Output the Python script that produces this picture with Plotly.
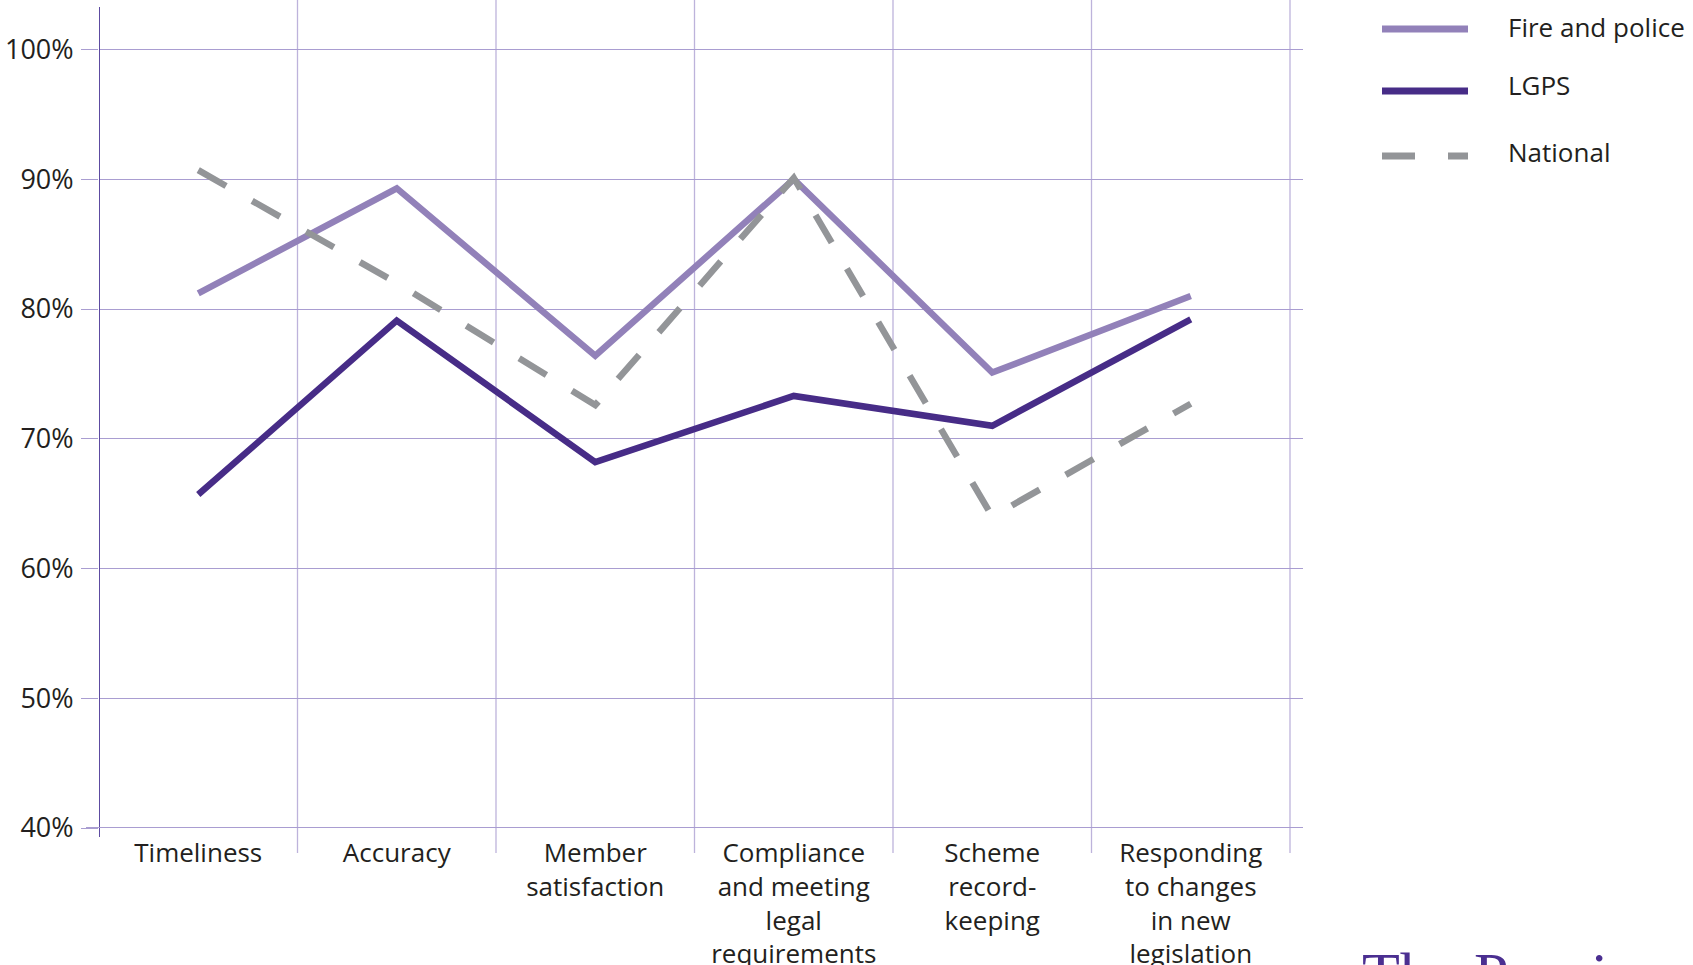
import plotly.graph_objects as go

categories = ["Timeliness", "Accuracy", "Member<br>satisfaction",
              "Compliance<br>and meeting<br>legal<br>requirements",
              "Scheme<br>record-<br>keeping",
              "Responding<br>to changes<br>in new<br>legislation"]
fire_police = [81.2, 89.3, 76.4, 90.0, 75.1, 81.0]
lgps = [65.7, 79.1, 68.2, 73.3, 71.0, 79.2]
national = [90.7, 82.0, 72.6, 90.1, 64.0, 72.7]
series_names = ["Fire and police", "LGPS", "National"]
y_ticks = [40, 50, 60, 70, 80, 90, 100]

FONT = "Open Sans"
C_FIRE = "#9281b9"
C_LGPS = "#472c87"
C_NAT = "#939598"
C_GRID = "#a99dd1"
C_VGRID = "#bdb3db"
C_AXIS = "#4b3797"

W, H = 1693, 965
L, R, T, B = 99, 390, 7, 137
x = list(range(len(categories)))
x_right = 5.5 + 13 / 198.5

fig = go.Figure()
fig.add_trace(go.Scatter(x=x, y=fire_police, mode="lines", name=series_names[0],
                         line=dict(color=C_FIRE, width=6.5)))
fig.add_trace(go.Scatter(x=x, y=lgps, mode="lines", name=series_names[1],
                         line=dict(color=C_LGPS, width=6.5)))
fig.add_trace(go.Scatter(x=x, y=national, mode="lines", name=series_names[2],
                         line=dict(color=C_NAT, width=6.5, dash="32px,30px")))

plot_h = H - T - B
shapes = []
# vertical category separators
for i in range(1, len(categories) + 1):
    shapes.append(dict(type="line", xref="x", yref="paper", x0=i - 0.5, x1=i - 0.5,
                       y0=-25 / plot_h, y1=1 + T / plot_h,
                       line=dict(color=C_VGRID, width=1.3), layer="below"))
# y axis line
shapes.append(dict(type="line", xref="x", yref="paper", x0=-0.5, x1=-0.5,
                   y0=-9 / plot_h, y1=1, line=dict(color=C_AXIS, width=1.8)))
# bottom axis line
shapes.append(dict(type="line", xref="paper", yref="y", x0=-13 / (W - L - R), x1=1,
                   y0=y_ticks[0], y1=y_ticks[0], line=dict(color=C_GRID, width=2.2)))

# legend (drawn manually to get long sample lines)
leg_y = [29, 91, 156]
leg_text_y = [27, 85, 152]
leg_colors = [C_FIRE, C_LGPS, C_NAT]
leg_dash = ["solid", "solid", "33px,33px"]
annotations = []
for name, ly, ty, c, d in zip(series_names, leg_y, leg_text_y, leg_colors, leg_dash):
    shapes.append(dict(type="line", xref="paper", yref="paper",
                       x0=(1382 - L) / (W - L - R), x1=(1468 - L) / (W - L - R),
                       y0=(H - B - ly) / plot_h, y1=(H - B - ly) / plot_h,
                       line=dict(color=c, width=7, dash=d)))
    annotations.append(dict(xref="paper", yref="paper",
                            x=(1506 - L) / (W - L - R), y=(H - B - ty) / plot_h,
                            xanchor="left", yanchor="middle", showarrow=False,
                            text=name, font=dict(family=FONT, size=26, color="#231f20")))

# cut-off logo text (cut off at the page edge in the original as well)
annotations.append(dict(xref="paper", yref="paper",
                        x=(1360 - L) / (W - L - R), y=(H - B - 938) / plot_h,
                        xanchor="left", yanchor="top", showarrow=False,
                        text="The Pensions Regulator",
                        font=dict(family="Liberation Serif", size=62, color="#4b2f91")))

fig.update_layout(
    width=W, height=H,
    margin=dict(l=L, r=R, t=T, b=B, autoexpand=False),
    paper_bgcolor="white", plot_bgcolor="white",
    showlegend=False,
    font=dict(family=FONT, color="#231f20"),
    shapes=shapes, annotations=annotations,
    xaxis=dict(range=[-0.5, x_right], tickmode="array", tickvals=x, ticktext=categories,
               showgrid=False, zeroline=False, showline=False, ticks="",
               ticklabelstandoff=7,
               tickfont=dict(family=FONT, size=26, color="#231f20"), automargin=False,
               fixedrange=True),
    yaxis=dict(range=[40, 100 + 42.5 / 12.975], tickmode="array", tickvals=y_ticks,
               ticktext=[f"{v}%" for v in y_ticks],
               showgrid=True, gridcolor=C_GRID, gridwidth=1.2, zeroline=False,
               showline=False, ticks="outside", ticklen=17, tickcolor=C_GRID,
               tickwidth=1.2, ticklabelstandoff=2,
               tickfont=dict(family=FONT, size=27, color="#231f20"), automargin=False,
               fixedrange=True),
)

fig.write_html("out.html")
